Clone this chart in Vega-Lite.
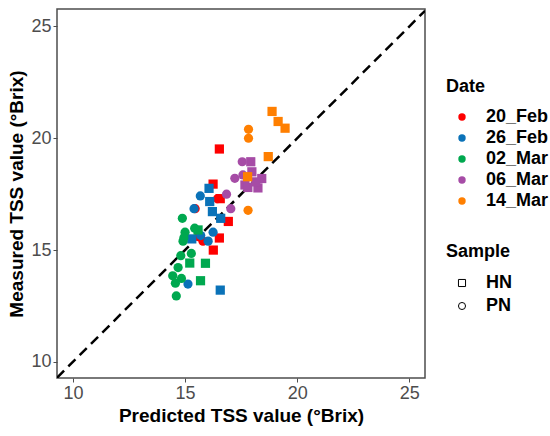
{
  "$schema": "https://vega.github.io/schema/vega-lite/v6.json",
  "autosize": "none",
  "width": 368,
  "height": 369,
  "padding": {"left": 57, "top": 9, "right": 125, "bottom": 58},
  "background": "white",
  "config": {
    "font": "Liberation Sans",
    "view": {"stroke": "#4d4d4d", "strokeWidth": 1.5},
    "axis": {
      "grid": false,
      "domain": false,
      "ticks": true,
      "tickColor": "#4d4d4d",
      "tickSize": 4,
      "tickWidth": 1,
      "labelFont": "Liberation Sans",
      "labelFontSize": 18,
      "labelColor": "#4d4d4d",
      "labelPadding": 2,
      "titleFont": "Liberation Sans",
      "titleFontSize": 19,
      "titleFontWeight": "bold",
      "titleColor": "black"
    },
    "legend": {
      "titleFont": "Liberation Sans",
      "titleFontSize": 18,
      "titleFontWeight": "bold",
      "titleColor": "black",
      "labelFont": "Liberation Sans",
      "labelFontSize": 18,
      "labelFontWeight": "bold",
      "labelColor": "black",
      "padding": 0
    }
  },
  "datasets": {
    "tss": [
      {"pred": 16.53, "meas": 19.52, "date": "20_Feb", "sample": "HN"},
      {"pred": 16.25, "meas": 17.95, "date": "20_Feb", "sample": "HN"},
      {"pred": 16.57, "meas": 17.30, "date": "20_Feb", "sample": "HN"},
      {"pred": 16.93, "meas": 16.28, "date": "20_Feb", "sample": "HN"},
      {"pred": 16.53, "meas": 15.54, "date": "20_Feb", "sample": "HN"},
      {"pred": 16.26, "meas": 15.00, "date": "20_Feb", "sample": "HN"},
      {"pred": 15.45, "meas": 16.85, "date": "20_Feb", "sample": "PN"},
      {"pred": 16.45, "meas": 17.30, "date": "20_Feb", "sample": "PN"},
      {"pred": 15.60, "meas": 15.60, "date": "20_Feb", "sample": "PN"},
      {"pred": 15.80, "meas": 15.40, "date": "20_Feb", "sample": "PN"},
      {"pred": 16.07, "meas": 17.76, "date": "26_Feb", "sample": "HN"},
      {"pred": 16.10, "meas": 17.17, "date": "26_Feb", "sample": "HN"},
      {"pred": 16.22, "meas": 16.72, "date": "26_Feb", "sample": "HN"},
      {"pred": 16.59, "meas": 16.42, "date": "26_Feb", "sample": "HN"},
      {"pred": 16.57, "meas": 13.21, "date": "26_Feb", "sample": "HN"},
      {"pred": 15.30, "meas": 15.50, "date": "26_Feb", "sample": "HN"},
      {"pred": 15.68, "meas": 17.42, "date": "26_Feb", "sample": "PN"},
      {"pred": 15.40, "meas": 16.85, "date": "26_Feb", "sample": "PN"},
      {"pred": 16.25, "meas": 15.80, "date": "26_Feb", "sample": "PN"},
      {"pred": 16.03, "meas": 15.40, "date": "26_Feb", "sample": "PN"},
      {"pred": 15.13, "meas": 13.48, "date": "26_Feb", "sample": "PN"},
      {"pred": 15.70, "meas": 15.65, "date": "26_Feb", "sample": "PN"},
      {"pred": 15.58, "meas": 15.90, "date": "02_Mar", "sample": "HN"},
      {"pred": 15.21, "meas": 14.42, "date": "02_Mar", "sample": "HN"},
      {"pred": 15.91, "meas": 14.41, "date": "02_Mar", "sample": "HN"},
      {"pred": 15.69, "meas": 13.63, "date": "02_Mar", "sample": "HN"},
      {"pred": 14.88, "meas": 16.42, "date": "02_Mar", "sample": "PN"},
      {"pred": 15.00, "meas": 15.80, "date": "02_Mar", "sample": "PN"},
      {"pred": 14.91, "meas": 15.40, "date": "02_Mar", "sample": "PN"},
      {"pred": 15.43, "meas": 15.98, "date": "02_Mar", "sample": "PN"},
      {"pred": 15.28, "meas": 14.85, "date": "02_Mar", "sample": "PN"},
      {"pred": 14.81, "meas": 14.75, "date": "02_Mar", "sample": "PN"},
      {"pred": 14.69, "meas": 14.22, "date": "02_Mar", "sample": "PN"},
      {"pred": 14.45, "meas": 13.85, "date": "02_Mar", "sample": "PN"},
      {"pred": 14.84, "meas": 13.73, "date": "02_Mar", "sample": "PN"},
      {"pred": 14.57, "meas": 13.52, "date": "02_Mar", "sample": "PN"},
      {"pred": 14.61, "meas": 12.95, "date": "02_Mar", "sample": "PN"},
      {"pred": 14.95, "meas": 15.55, "date": "02_Mar", "sample": "PN"},
      {"pred": 17.93, "meas": 18.95, "date": "06_Mar", "sample": "HN"},
      {"pred": 17.98, "meas": 18.50, "date": "06_Mar", "sample": "HN"},
      {"pred": 17.67, "meas": 17.91, "date": "06_Mar", "sample": "HN"},
      {"pred": 18.25, "meas": 17.78, "date": "06_Mar", "sample": "HN"},
      {"pred": 18.42, "meas": 18.20, "date": "06_Mar", "sample": "HN"},
      {"pred": 18.15, "meas": 18.05, "date": "06_Mar", "sample": "HN"},
      {"pred": 17.80, "meas": 17.80, "date": "06_Mar", "sample": "HN"},
      {"pred": 17.55, "meas": 18.95, "date": "06_Mar", "sample": "PN"},
      {"pred": 17.22, "meas": 18.21, "date": "06_Mar", "sample": "PN"},
      {"pred": 16.85, "meas": 17.50, "date": "06_Mar", "sample": "PN"},
      {"pred": 17.04, "meas": 16.85, "date": "06_Mar", "sample": "PN"},
      {"pred": 17.58, "meas": 18.36, "date": "06_Mar", "sample": "PN"},
      {"pred": 18.88, "meas": 21.20, "date": "14_Mar", "sample": "HN"},
      {"pred": 19.15, "meas": 20.75, "date": "14_Mar", "sample": "HN"},
      {"pred": 19.46, "meas": 20.45, "date": "14_Mar", "sample": "HN"},
      {"pred": 18.71, "meas": 19.18, "date": "14_Mar", "sample": "HN"},
      {"pred": 17.79, "meas": 18.28, "date": "14_Mar", "sample": "HN"},
      {"pred": 17.83, "meas": 20.40, "date": "14_Mar", "sample": "PN"},
      {"pred": 17.83, "meas": 20.00, "date": "14_Mar", "sample": "PN"},
      {"pred": 17.81, "meas": 16.78, "date": "14_Mar", "sample": "PN"}
    ],
    "diag": [
      {"v": 9.29},
      {"v": 25.7}
    ]
  },
  "layer": [
    {
      "data": {"name": "diag"},
      "mark": {"type": "line", "color": "black", "strokeWidth": 2.5, "strokeDash": [10, 6], "clip": true},
      "encoding": {
        "x": {"field": "v", "type": "quantitative"},
        "y": {"field": "v", "type": "quantitative"}
      }
    },
    {
      "data": {"name": "tss"},
      "mark": {"type": "point", "filled": true, "opacity": 1, "size": 85},
      "encoding": {
        "x": {
          "field": "pred",
          "type": "quantitative",
          "title": "Predicted TSS value (°Brix)",
          "scale": {"domain": [9.29, 25.7], "nice": false, "zero": false},
          "axis": {"values": [10, 15, 20, 25], "titlePadding": 4}
        },
        "y": {
          "field": "meas",
          "type": "quantitative",
          "title": "Measured TSS value (°Brix)",
          "scale": {"domain": [9.28, 25.78], "nice": false, "zero": false},
          "axis": {"values": [10, 15, 20, 25], "titlePadding": 4}
        },
        "color": {
          "field": "date",
          "type": "nominal",
          "title": "Date",
          "scale": {
            "domain": ["20_Feb", "26_Feb", "02_Mar", "06_Mar", "14_Mar"],
            "range": ["#fe0000", "#0a72b8", "#00a84f", "#a64ca6", "#ff7f00"]
          },
          "legend": {
            "orient": "none",
            "legendX": 389,
            "legendY": 69,
            "symbolType": "circle",
            "symbolSize": 55,
            "symbolOffset": 7,
            "labelOffset": 15,
            "rowPadding": 3,
            "titlePadding": 12
          }
        },
        "shape": {
          "field": "sample",
          "type": "nominal",
          "title": "Sample",
          "scale": {"domain": ["HN", "PN"], "range": ["square", "circle"]},
          "legend": {
            "orient": "none",
            "legendX": 389,
            "legendY": 234,
            "symbolSize": 50,
            "symbolOffset": 7,
            "labelOffset": 15,
            "rowPadding": 5,
            "titlePadding": 13,
            "symbolFillColor": "white",
            "symbolStrokeColor": "black",
            "symbolStrokeWidth": 1,
            "encode": {
              "symbols": {
                "update": {
                  "fill": {"value": "white"},
                  "fillOpacity": {"value": 0},
                  "stroke": {"value": "black"},
                  "strokeOpacity": {"value": 1},
                  "strokeWidth": {"value": 1}
                }
              }
            }
          }
        }
      }
    }
  ]
}
